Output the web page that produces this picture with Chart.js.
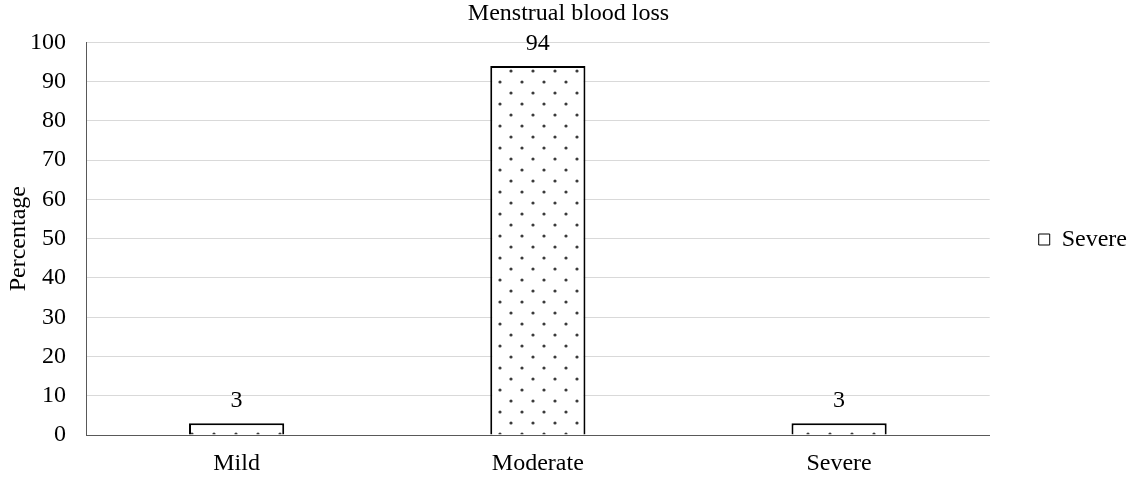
<!DOCTYPE html>
<html>
<head>
<meta charset="utf-8">
<script src="https://cdn.jsdelivr.net/npm/chart.js@4/dist/chart.umd.min.js"></script>
<style>
  html, body { margin: 0; padding: 0; background: #fff; }
  #wrap { width: 1137px; height: 479px; }
</style>
</head>
<body>
<div id="wrap"><canvas id="bloodChart" width="1137" height="479"></canvas></div>
<script>
// Data
const categories = ['Mild', 'Moderate', 'Severe'];
const percentages = [3, 94, 3];
const seriesName = 'Severe';
const chartTitle = 'Menstrual blood loss';
const yAxisTitle = 'Percentage';
const yTicks = [0, 10, 20, 30, 40, 50, 60, 70, 80, 90, 100];

const FONT = 'Liberation Serif, Times New Roman, serif';
const SIZE = 24;

// Dotted fill like the Excel pattern
function dotPattern() {
    const tile = document.createElement('canvas');
    tile.width = 22;
    tile.height = 22;
    const t = tile.getContext('2d');
    t.fillStyle = '#fff';
    t.fillRect(0, 0, 22, 22);
    t.fillStyle = '#3a3a3a';
    [[5, 5], [16, 16]].forEach(([x, y]) => {
        t.beginPath();
        t.arc(x, y, 1.6, 0, Math.PI * 2);
        t.fill();
    });
    return t.createPattern(tile, 'repeat');
}

// Value labels above bars
const valueLabels = {
    id: 'valueLabels',
    afterDatasetsDraw(chart) {
        const ctx = chart.ctx;
        const meta = chart.getDatasetMeta(0);
        ctx.save();
        ctx.font = `${SIZE}px ${FONT}`;
        ctx.fillStyle = '#000';
        ctx.textAlign = 'center';
        ctx.textBaseline = 'alphabetic';
        meta.data.forEach((bar, i) => {
            ctx.fillText(String(percentages[i]), bar.x, bar.y - 16);
        });
        ctx.restore();
    }
};

const ctx = document.getElementById('bloodChart').getContext('2d');

new Chart(ctx, {
    type: 'bar',
    data: {
        labels: categories,
        datasets: [{
            label: seriesName,
            data: percentages,
            backgroundColor: dotPattern(),
            borderColor: '#000',
            borderWidth: 2,
            categoryPercentage: 1,
            barPercentage: 0.316
        }]
    },
    options: {
        responsive: false,
        animation: false,
        devicePixelRatio: 1,
        layout: { padding: 0 },
        plugins: {
            title: {
                display: true,
                text: chartTitle,
                color: '#000',
                font: { family: FONT, size: SIZE, weight: 'normal', lineHeight: 1.1 },
                padding: { top: 1, bottom: 15 }
            },
            legend: {
                position: 'right',
                labels: {
                    color: '#000',
                    font: { family: FONT, size: SIZE },
                    boxWidth: 11,
                    boxHeight: 11,
                    padding: 4,
                    generateLabels: () => [{
                        text: seriesName,
                        fillStyle: '#fff',
                        strokeStyle: '#000',
                        lineWidth: 1,
                        hidden: false,
                        datasetIndex: 0
                    }]
                }
            },
            tooltip: { enabled: false }
        },
        scales: {
            x: {
                grid: { display: false, drawTicks: false },
                border: { color: '#595959', width: 1 },
                ticks: { color: '#000', font: { family: FONT, size: SIZE }, padding: 14 },
                afterFit: s => { s.height = 44; }
            },
            y: {
                min: 0,
                max: 100,
                afterBuildTicks: s => { s.ticks = yTicks.map(v => ({ value: v })); },
                grid: { color: '#d9d9d9', lineWidth: 1, drawTicks: false },
                border: { color: '#595959', width: 1 },
                ticks: { color: '#000', font: { family: FONT, size: SIZE }, padding: 20 },
                title: {
                    display: true,
                    text: yAxisTitle,
                    color: '#000',
                    font: { family: FONT, size: SIZE },
                    padding: { top: 4, bottom: 0 }
                },
                afterFit: s => { s.width = 86; }
            },
            // empty spacer so the plot stops short of the legend
            gap: {
                type: 'linear',
                position: 'right',
                display: true,
                grid: { display: false, drawTicks: false },
                border: { display: false },
                ticks: { display: false },
                afterFit: s => { s.width = 45; }
            }
        }
    },
    plugins: [valueLabels]
});
</script>
</body>
</html>
